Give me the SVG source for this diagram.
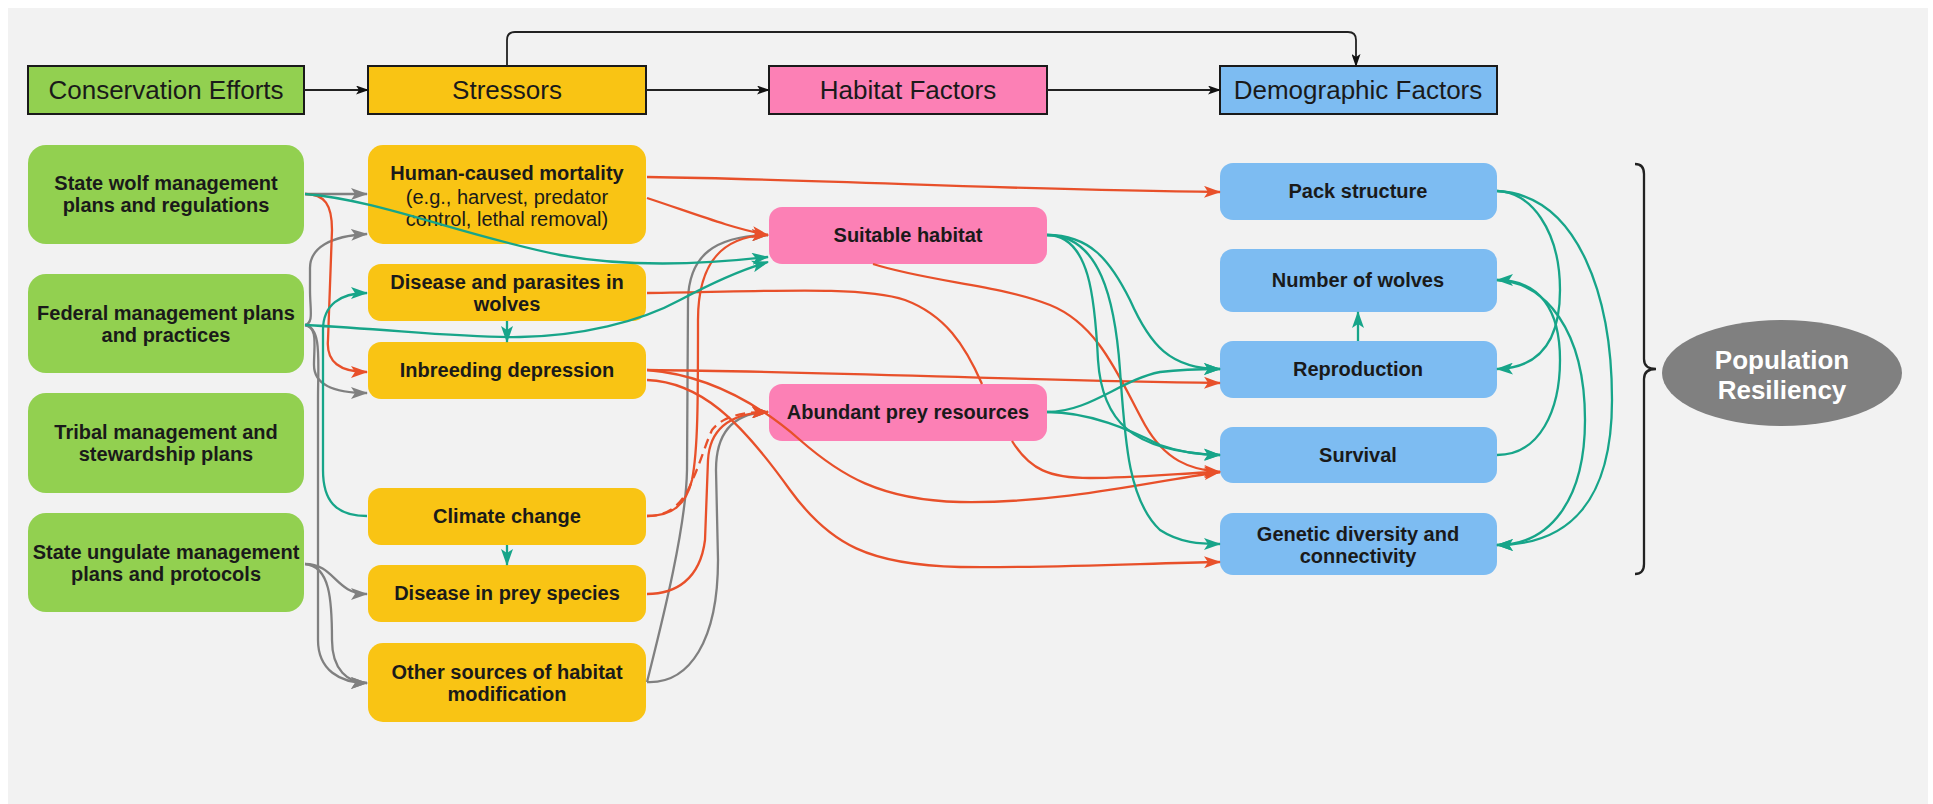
<svg xmlns="http://www.w3.org/2000/svg" width="1933" height="804" viewBox="0 0 1933 804">
<defs>
<style>
text{font-family:"Liberation Sans",Arial,sans-serif;fill:#1a1a1a;text-anchor:middle}
.hd{font-size:26px}
.nb{font-size:20px;font-weight:bold}
.nr{font-size:20px}
.hbox{stroke:#1a1a1a;stroke-width:2}
.g{fill:#92d050}.y{fill:#f9c414}.p{fill:#fc80b5}.b{fill:#7dbcf2}
.c{fill:none;stroke-width:2.3}
.cr{stroke:#e8502a;marker-end:url(#mr)}
.ct{stroke:#17a589;marker-end:url(#mt)}
.cg{stroke:#808080;marker-end:url(#mg)}
.ck{stroke:#222;stroke-width:1.8;fill:none;marker-end:url(#mk)}
.dash{stroke-dasharray:10 6}
</style>
<marker id="mr" viewBox="0 0 17 12" refX="16" refY="6" markerWidth="17" markerHeight="12" markerUnits="userSpaceOnUse" orient="auto"><path d="M0,0 L17,6 L0,12 L4,6 Z" fill="#e8502a"/></marker>
<marker id="mt" viewBox="0 0 17 12" refX="16" refY="6" markerWidth="17" markerHeight="12" markerUnits="userSpaceOnUse" orient="auto"><path d="M0,0 L17,6 L0,12 L4,6 Z" fill="#17a589"/></marker>
<marker id="mg" viewBox="0 0 17 12" refX="16" refY="6" markerWidth="17" markerHeight="12" markerUnits="userSpaceOnUse" orient="auto"><path d="M0,0 L17,6 L0,12 L4,6 Z" fill="#808080"/></marker>
<marker id="mk" viewBox="0 0 13 9" refX="12" refY="4.5" markerWidth="13" markerHeight="9" markerUnits="userSpaceOnUse" orient="auto"><path d="M0,0 L13,4.5 L0,9 L3,4.5 Z" fill="#111"/></marker>
</defs>
<rect x="8" y="8" width="1920" height="796" fill="#f2f2f2"/>

<g id="headers">
<g id="h-conservation"><rect class="hbox g" x="28" y="66" width="276" height="48"/><text class="hd" x="166" y="99">Conservation Efforts</text></g>
<g id="h-stressors"><rect class="hbox y" x="368" y="66" width="278" height="48"/><text class="hd" x="507" y="99">Stressors</text></g>
<g id="h-habitat"><rect class="hbox p" x="769" y="66" width="278" height="48"/><text class="hd" x="908" y="99">Habitat Factors</text></g>
<g id="h-demographic"><rect class="hbox b" x="1220" y="66" width="277" height="48"/><text class="hd" x="1358" y="99">Demographic Factors</text></g>
</g>

<g id="n-state-wolf"><rect class="g" x="28" y="145" width="276" height="99" rx="18"/><text class="nb" x="166" y="190">State wolf management</text><text class="nb" x="166" y="212">plans and regulations</text></g>
<g id="n-federal"><rect class="g" x="28" y="274" width="276" height="99" rx="18"/><text class="nb" x="166" y="320">Federal management plans</text><text class="nb" x="166" y="342">and practices</text></g>
<g id="n-tribal"><rect class="g" x="28" y="393" width="276" height="100" rx="18"/><text class="nb" x="166" y="439">Tribal management and</text><text class="nb" x="166" y="461">stewardship plans</text></g>
<g id="n-ungulate"><rect class="g" x="28" y="513" width="276" height="99" rx="18"/><text class="nb" x="166" y="559">State ungulate management</text><text class="nb" x="166" y="581">plans and protocols</text></g>

<g id="n-hcm"><rect class="y" x="368" y="145" width="278" height="99" rx="15"/><text class="nb" x="507" y="180">Human-caused mortality</text><text class="nr" x="507" y="204">(e.g., harvest, predator</text><text class="nr" x="507" y="226">control, lethal removal)</text></g>
<g id="n-disease-wolves"><rect class="y" x="368" y="264" width="278" height="57" rx="13"/><text class="nb" x="507" y="289">Disease and parasites in</text><text class="nb" x="507" y="311">wolves</text></g>
<g id="n-inbreeding"><rect class="y" x="368" y="342" width="278" height="57" rx="13"/><text class="nb" x="507" y="377">Inbreeding depression</text></g>
<g id="n-climate"><rect class="y" x="368" y="488" width="278" height="57" rx="13"/><text class="nb" x="507" y="523">Climate change</text></g>
<g id="n-disease-prey"><rect class="y" x="368" y="565" width="278" height="57" rx="13"/><text class="nb" x="507" y="600">Disease in prey species</text></g>
<g id="n-other"><rect class="y" x="368" y="643" width="278" height="79" rx="15"/><text class="nb" x="507" y="679">Other sources of habitat</text><text class="nb" x="507" y="701">modification</text></g>

<g id="n-suitable"><rect class="p" x="769" y="207" width="278" height="57" rx="13"/><text class="nb" x="908" y="242">Suitable habitat</text></g>
<g id="n-prey"><rect class="p" x="769" y="384" width="278" height="57" rx="13"/><text class="nb" x="908" y="419">Abundant prey resources</text></g>

<g id="n-pack"><rect class="b" x="1220" y="163" width="277" height="57" rx="13"/><text class="nb" x="1358" y="198">Pack structure</text></g>
<g id="n-number"><rect class="b" x="1220" y="249" width="277" height="63" rx="13"/><text class="nb" x="1358" y="287">Number of wolves</text></g>
<g id="n-reproduction"><rect class="b" x="1220" y="341" width="277" height="57" rx="13"/><text class="nb" x="1358" y="376">Reproduction</text></g>
<g id="n-survival"><rect class="b" x="1220" y="427" width="277" height="56" rx="13"/><text class="nb" x="1358" y="462">Survival</text></g>
<g id="n-genetic"><rect class="b" x="1220" y="513" width="277" height="62" rx="13"/><text class="nb" x="1358" y="541">Genetic diversity and</text><text class="nb" x="1358" y="563">connectivity</text></g>

<g id="n-resiliency"><path d="M1635,164 Q1644,164 1644,174 L1644,359 Q1644,369 1656,369 Q1644,369 1644,379 L1644,564 Q1644,574 1635,574" fill="none" stroke="#222" stroke-width="2.3"/><ellipse cx="1782" cy="373" rx="120" ry="53" fill="#808080"/><text x="1782" y="369" style="font-size:26px;font-weight:bold;fill:#fff">Population</text><text x="1782" y="399" style="font-size:26px;font-weight:bold;fill:#fff">Resiliency</text></g>

<g id="connectors">
<path class="ck" d="M304,90 L368,90"/>
<path class="ck" d="M646,90 L769,90"/>
<path class="ck" d="M1047,90 L1220,90"/>
<path class="ck" d="M507,66 L507,40 Q507,32 515,32 L1348,32 Q1356,32 1356,40 L1356,66"/>

<path class="c cg" d="M305,194 L367,194"/>
<path class="c cg" d="M305,325 C314,323 310,310 310,290 L310,268 C310,248 330,236 367,234"/>
<path class="c cg" d="M305,325 C318,327 314,345 314,365 C314,385 335,393 367,393"/>
<path class="c cg" d="M305,325 C322,328 318,360 318,400 L318,640 C318,670 340,683 367,683"/>
<path class="c cg" d="M305,564 C335,564 335,594 367,594"/>
<path class="c cg" d="M305,564 C330,566 332,600 332,640 C332,670 348,683 367,683"/>
<path class="c cg" d="M647,682 C660,630 686,530 687,470 L688,300 C689,255 715,236 768,235"/>
<path class="c cg" d="M647,682 C690,684 718,640 718,560 L716,470 C716,430 735,413 768,412"/>

<path class="c cr" d="M647,177 C850,180 1000,190 1220,192"/>
<path class="c cr" d="M647,198 C690,212 730,228 768,235"/>
<path class="c cr" d="M305,194 C325,194 332,205 332,230 L328,340 C326,362 340,372 367,372"/>
<path class="c cr" d="M647,293 C760,292 860,285 905,300 C945,315 965,345 982,384 M1012,441 C1030,470 1050,478 1090,478 C1140,478 1180,473 1220,472"/>
<path class="c cr" d="M647,370 C850,372 1000,380 1220,383"/>
<path class="c cr" d="M647,370 C710,375 760,405 800,440 C840,475 880,500 960,502 C1060,504 1160,480 1220,472"/>
<path class="c cr" d="M647,380 C700,382 740,420 790,490 C830,545 870,565 960,567 C1060,568 1150,563 1220,562"/>
<path class="c cr" d="M873,264 C930,282 1000,285 1050,305 C1100,325 1120,380 1145,425 C1165,460 1190,470 1220,472"/>
<path class="c cr" d="M647,516 C672,516 686,505 692,480 C698,450 698,400 698,320 C698,265 720,236 768,235"/>
<path class="c cr dash" d="M647,516 C668,516 680,505 688,490 C700,465 705,445 712,430 C722,417 740,412 768,412"/>
<path class="c cr" d="M647,594 C675,594 700,580 705,540 L708,460 C710,425 735,413 768,412"/>

<path class="c ct" d="M305,194 C380,200 460,235 560,255 C620,266 690,266 768,257"/>
<path class="c ct" d="M305,325 C400,330 460,338 520,337 C580,336 640,322 680,300 C710,284 740,270 768,262"/>
<path class="c ct" d="M367,516 C335,516 323,500 323,470 L323,330 C323,305 340,293 367,293"/>
<path class="c ct" d="M507,321 L507,342"/>
<path class="c ct" d="M507,545 L507,565"/>
<path class="c ct" d="M1047,235 C1090,235 1110,260 1130,300 C1150,345 1170,369 1220,369"/>
<path class="c ct" d="M1047,235 C1090,235 1095,300 1098,360 C1102,420 1130,452 1220,455"/>
<path class="c ct" d="M1047,235 C1100,235 1115,300 1120,370 C1125,440 1128,500 1160,530 C1180,543 1200,544 1220,544"/>
<path class="c ct" d="M1047,412 C1090,412 1120,380 1160,372 C1185,369 1200,369 1220,369"/>
<path class="c ct" d="M1047,412 C1090,412 1130,430 1160,445 C1180,452 1200,455 1220,455"/>
<path class="c ct" d="M1497,191 C1530,191 1560,230 1560,290 C1560,340 1540,368 1497,369"/>
<path class="c ct" d="M1497,191 C1580,195 1612,300 1612,400 C1612,500 1570,545 1497,545"/>
<path class="c ct" d="M1497,455 C1540,455 1560,410 1560,360 C1560,310 1540,280 1497,280"/>
<path class="c ct" d="M1497,280 C1545,282 1585,330 1585,420 C1585,500 1550,545 1497,545"/>
<path class="c ct" d="M1358,341 L1358,312"/>
</g>
</svg>
